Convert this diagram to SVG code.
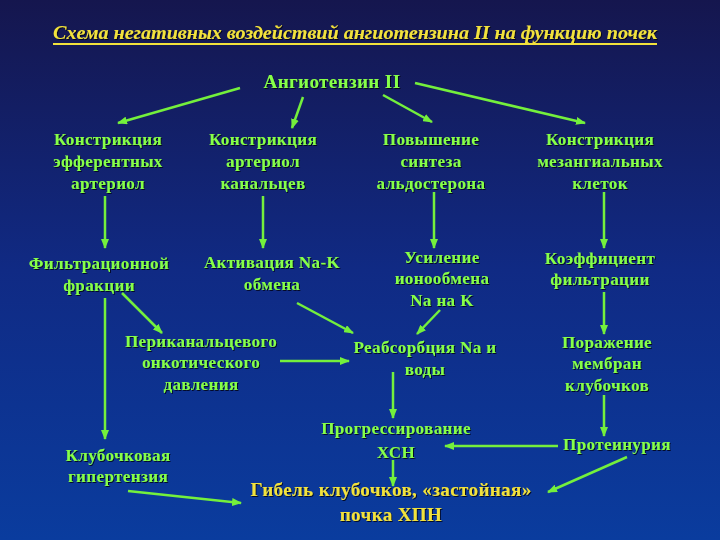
<svg xmlns="http://www.w3.org/2000/svg" width="720" height="540" viewBox="0 0 720 540">
<defs>
<linearGradient id="bg" x1="0" y1="0" x2="0" y2="1">
<stop offset="0" stop-color="#15164e"/>
<stop offset="0.5" stop-color="#102a84"/>
<stop offset="1" stop-color="#0a3c9e"/>
</linearGradient>
<marker id="ah" viewBox="0 0 10 8" refX="9" refY="4" markerWidth="10" markerHeight="8" markerUnits="userSpaceOnUse" orient="auto">
<path d="M0,0 L10,4 L0,8 Z" fill="#74f03c"/>
</marker>
<filter id="sh" x="-5%" y="-20%" width="110%" height="140%">
<feDropShadow dx="1" dy="1" stdDeviation="0.4" flood-color="#000010" flood-opacity="0.8"/>
</filter>
</defs>
<style>
.n{font-family:"Liberation Serif","Times New Roman",serif;font-weight:bold;font-size:17px;fill:#86ff48;text-anchor:middle;letter-spacing:0.4px;filter:url(#sh)}
.y{font-family:"Liberation Serif","Times New Roman",serif;font-weight:bold;font-size:19px;fill:#f2e23c;text-anchor:middle;letter-spacing:0.4px;filter:url(#sh)}
.t{font-family:"Liberation Serif","Times New Roman",serif;font-weight:bold;font-style:italic;font-size:18px;fill:#f2e23c;filter:url(#sh)}
.c line{stroke:#74f03c;stroke-width:2.5;marker-end:url(#ah)}
</style>
<rect width="720" height="540" fill="url(#bg)"/>
<g id="title">
<text class="t" x="53" y="39" textLength="604" lengthAdjust="spacingAndGlyphs">Схема негативных воздействий ангиотензина II на функцию почек</text>
<rect x="53" y="43" width="604" height="2" fill="#f2e23c"/>
</g>
<g id="angiotensin"><text class="n" x="332" y="88" style="font-size:19px">Ангиотензин II</text></g>
<g id="n1"><text class="n" x="108" y="145">Констрикция</text><text class="n" x="108" y="167">эфферентных</text><text class="n" x="108" y="189">артериол</text></g>
<g id="n2"><text class="n" x="263" y="145">Констрикция</text><text class="n" x="263" y="167">артериол</text><text class="n" x="263" y="189">канальцев</text></g>
<g id="n3"><text class="n" x="431" y="145">Повышение</text><text class="n" x="431" y="167">синтеза</text><text class="n" x="431" y="189">альдостерона</text></g>
<g id="n4"><text class="n" x="600" y="145">Констрикция</text><text class="n" x="600" y="167">мезангиальных</text><text class="n" x="600" y="189">клеток</text></g>
<g id="n5"><text class="n" x="99" y="269">Фильтрационной</text><text class="n" x="99" y="291">фракции</text></g>
<g id="n6"><text class="n" x="272" y="268">Активация Na-K</text><text class="n" x="272" y="290">обмена</text></g>
<g id="n7"><text class="n" x="442" y="263">Усиление</text><text class="n" x="442" y="284">ионообмена</text><text class="n" x="442" y="306">Na на K</text></g>
<g id="n8"><text class="n" x="600" y="264">Коэффициент</text><text class="n" x="600" y="285">фильтрации</text></g>
<g id="n9"><text class="n" x="201" y="347">Периканальцевого</text><text class="n" x="201" y="368">онкотического</text><text class="n" x="201" y="390">давления</text></g>
<g id="n10"><text class="n" x="425" y="353">Реабсорбция Na и</text><text class="n" x="425" y="375">воды</text></g>
<g id="n11"><text class="n" x="607" y="348">Поражение</text><text class="n" x="607" y="369">мембран</text><text class="n" x="607" y="391">клубочков</text></g>
<g id="n12"><text class="n" x="396" y="434">Прогрессирование</text><text class="n" x="396" y="458">ХСН</text></g>
<g id="n13"><text class="n" x="617" y="450">Протеинурия</text></g>
<g id="n14"><text class="n" x="118" y="461">Клубочковая</text><text class="n" x="118" y="482">гипертензия</text></g>
<g id="n15"><text class="y" x="391" y="496">Гибель клубочков, «застойная»</text><text class="y" x="391" y="521">почка ХПН</text></g>
<g id="connectors" class="c">
<line x1="240" y1="88" x2="118" y2="123"/>
<line x1="303" y1="97" x2="292" y2="128"/>
<line x1="383" y1="95" x2="432" y2="122"/>
<line x1="415" y1="83" x2="585" y2="123"/>
<line x1="105" y1="196" x2="105" y2="248"/>
<line x1="263" y1="196" x2="263" y2="248"/>
<line x1="434" y1="192" x2="434" y2="248"/>
<line x1="604" y1="192" x2="604" y2="248"/>
<line x1="105" y1="298" x2="105" y2="439"/>
<line x1="122" y1="293" x2="162" y2="333"/>
<line x1="297" y1="303" x2="353" y2="333"/>
<line x1="440" y1="310" x2="417" y2="334"/>
<line x1="604" y1="292" x2="604" y2="334"/>
<line x1="280" y1="361" x2="349" y2="361"/>
<line x1="393" y1="372" x2="393" y2="418"/>
<line x1="604" y1="395" x2="604" y2="436"/>
<line x1="558" y1="446" x2="445" y2="446"/>
<line x1="393" y1="460" x2="393" y2="486"/>
<line x1="627" y1="457" x2="548" y2="492"/>
<line x1="128" y1="491" x2="241" y2="503"/>
</g>
</svg>
